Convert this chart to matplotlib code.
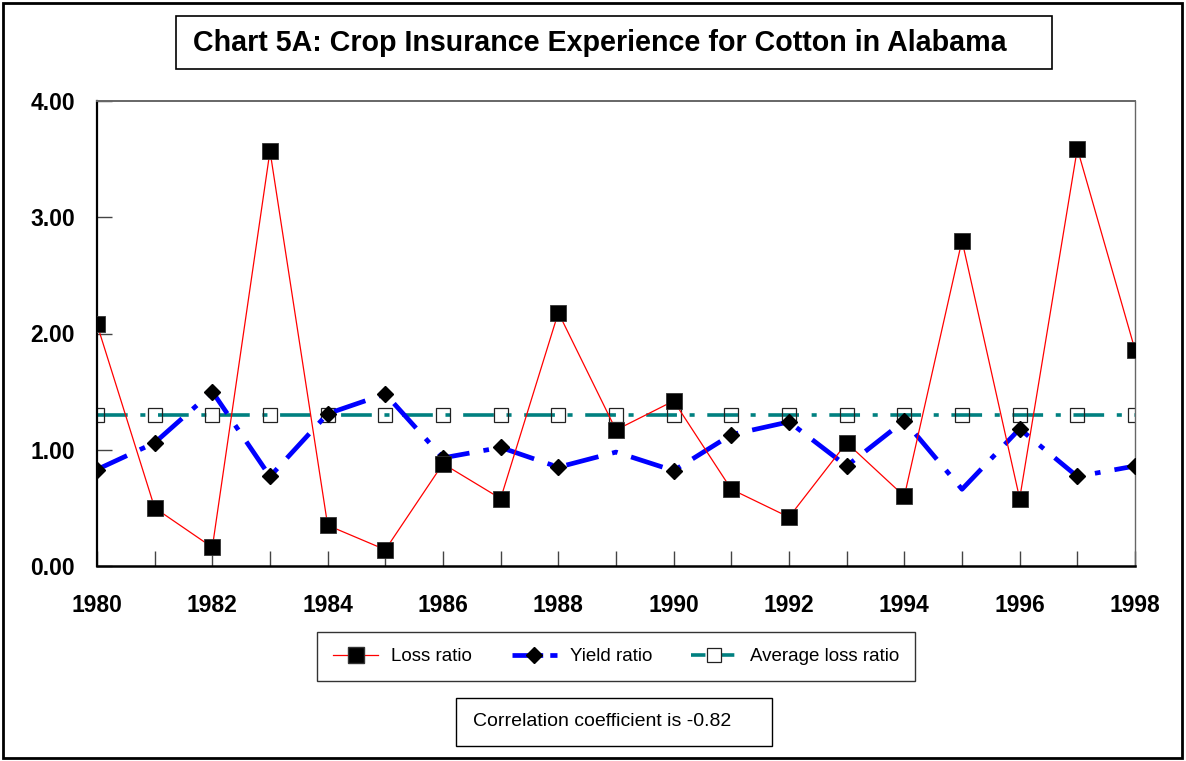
import matplotlib
matplotlib.use('Agg')
import matplotlib.pyplot as plt
from matplotlib.patches import Rectangle
from matplotlib.lines import Line2D

plt.rcParams['font.family'] = ['Liberation Sans', 'DejaVu Sans']

# data
years = list(range(1980, 1999))
loss_ratio = [2.08, 0.50, 0.16, 3.57, 0.35, 0.14, 0.88, 0.58, 2.18, 1.17,
              1.42, 0.66, 0.42, 1.06, 0.60, 2.80, 0.58, 3.59, 1.86]
yield_ratio = [0.83, 1.06, 1.50, 0.77, 1.31, 1.48, 0.93, 1.02, 0.85, 0.98,
               0.82, 1.13, 1.24, 0.86, 1.25, 0.66, 1.18, 0.77, 0.86]
avg_loss = [1.30] * 19
y_ticks = [0, 1, 2, 3, 4]
title = 'Chart 5A: Crop Insurance Experience for Cotton in Alabama'
note = 'Correlation coefficient is -0.82'

W, H = 1186, 761
fig = plt.figure(figsize=(W / 100, H / 100), dpi=100)

def fx(px):
    return px / W

def fy(py):
    return 1 - py / H

# outer frame
fig.patches.append(Rectangle((fx(3), fy(758)), fx(1179), 755 / H, transform=fig.transFigure,
                             fill=False, edgecolor='black', linewidth=2))

ax = fig.add_axes([fx(97), fy(566), fx(1135 - 97), (566 - 101) / H])

# average loss ratio (teal dash-dot, open squares)
ax.plot(years, avg_loss, color='#008080', linewidth=2.6, dashes=(8.5, 3.5, 1.4, 3.5),
        marker='s', markersize=10.5, markerfacecolor='none', markeredgecolor='#222222',
        markeredgewidth=0.9, zorder=2)
# yield ratio (blue dash-dot, diamonds)
ax.plot(years, yield_ratio, color='#0000ff', linewidth=3.4, dashes=(7, 3, 1.2, 3),
        marker='D', markersize=8, markerfacecolor='black', markeredgecolor='black',
        markevery=[i for i in range(19) if i not in (9, 15)], zorder=3)
# loss ratio (thin red, black squares)
ax.plot(years, loss_ratio, color='#ff0000', linewidth=0.9,
        marker='s', markersize=11, markerfacecolor='black', markeredgecolor='#333333',
        markeredgewidth=0.6, zorder=4)

ax.set_xlim(1980, 1998)
ax.set_ylim(0, 4)
ax.set_yticks(y_ticks)
ax.set_yticklabels(['%.2f' % v for v in y_ticks])
ax.set_xticks(years)
ax.set_xticklabels([str(y) if y % 2 == 0 else '' for y in years])
ax.tick_params(axis='both', direction='in', length=11, width=1, color='#444444',
               labelsize=16.5)
ax.tick_params(axis='x', pad=20)
ax.tick_params(axis='y', pad=16)
for lab in ax.get_xticklabels() + ax.get_yticklabels():
    lab.set_fontweight('bold')

ax.spines['left'].set_linewidth(1.6)
ax.spines['bottom'].set_linewidth(1.8)
ax.spines['top'].set_color('#666666')
ax.spines['top'].set_linewidth(1.4)
ax.spines['right'].set_color('#666666')
ax.spines['right'].set_linewidth(1.0)

# title box
fig.patches.append(Rectangle((fx(176), fy(69)), fx(1052 - 176), 53 / H, transform=fig.transFigure,
                             fill=False, edgecolor='black', linewidth=1.2))
fig.text(fx(600), fy(43), title, ha='center', va='center', fontsize=20.6, fontweight='bold')

# legend
handles = [
    Line2D([], [], color='#ff0000', linewidth=0.9, marker='s', markersize=11,
           markerfacecolor='black', markeredgecolor='#333333'),
    Line2D([], [], color='#0000ff', linewidth=3.4, dashes=(4, 1.5, 1, 1.5), marker='D',
           markersize=8, markerfacecolor='black', markeredgecolor='black'),
    Line2D([], [], color='#008080', linewidth=2.6, dashes=(4, 1.5, 1, 1.5), marker='s',
           markersize=10.5, markerfacecolor='white', markeredgecolor='#222222',
           markeredgewidth=0.9),
]
leg = fig.legend(handles, ['Loss ratio', 'Yield ratio', 'Average loss ratio'], ncol=3,
                 loc='center', bbox_to_anchor=(fx(616), fy(656.5)), fontsize=13.5,
                 frameon=True, fancybox=False, handlelength=2.4, columnspacing=2.1,
                 handletextpad=0.7, borderpad=0.85, borderaxespad=0)
leg.get_frame().set_edgecolor('black')
leg.get_frame().set_linewidth(1.0)

# correlation box
fig.patches.append(Rectangle((fx(456), fy(746)), fx(772 - 456), 48 / H, transform=fig.transFigure,
                             fill=False, edgecolor='black', linewidth=1.0))
fig.text(fx(473), fy(721), note, ha='left', va='center', fontsize=14)

fig.savefig('out.png', dpi=100)
